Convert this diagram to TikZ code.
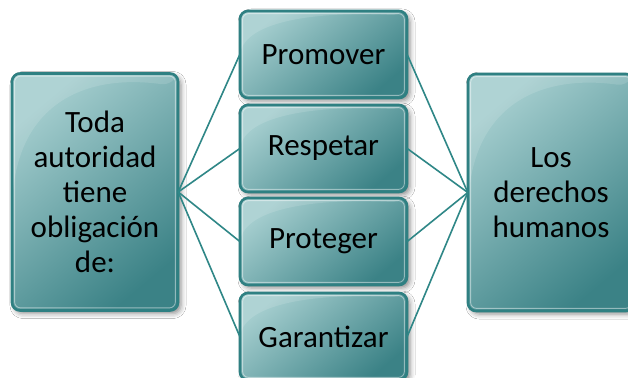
\documentclass[tikz,border=0pt]{standalone}
\usepackage{fontspec}
\setmainfont{Carlito}
\usetikzlibrary{shadows.blur,calc}
\definecolor{boxlight}{HTML}{A4CDCE}
\definecolor{boxdark}{HTML}{3B8286}
\definecolor{boxedge}{HTML}{2F8082}
\definecolor{linkcol}{HTML}{2F8787}
\tikzset{
  gbox/.style={rounded corners=8pt,
    top color=boxlight, bottom color=boxdark, shading angle=40,
    blur shadow={shadow xshift=3pt, shadow yshift=-3pt, shadow blur radius=5pt, shadow opacity=45},
    align=center, text=black, inner sep=0pt,
    font=\fontsize{31}{35}\selectfont,
    path picture={
      \coordinate (pnw) at (path picture bounding box.north west);
      \coordinate (pne) at (path picture bounding box.north east);
      \coordinate (psw) at (path picture bounding box.south west);
      \coordinate (pse) at (path picture bounding box.south east);
      \fill[white, fill opacity=0.13] (pnw) -- ($(pnw)!0.62!(psw)$)
        .. controls ($(pnw)!0.12!(psw)$) and ($(pnw)!0.45!(pne)$) .. ($(pne)!0.05!(psw)$)
        -- (pne) -- cycle;
      \draw[white, draw opacity=0.45, line width=0.9pt, rounded corners=6pt]
        ($(pnw)+(2.6pt,-2.6pt)$) rectangle ($(pse)+(-2.6pt,2.6pt)$);
    },
    postaction={draw=boxedge, line width=2.6pt}},
  bigbox/.style={gbox, minimum width=166pt, minimum height=237pt},
  smallbox/.style={gbox, minimum width=167pt, minimum height=87pt},
  link/.style={draw=linkcol, line width=1.6pt}
}
\begin{document}
\begin{tikzpicture}[x=1pt,y=-1pt]
\useasboundingbox (0,0) rectangle (628,377);
\clip (0,0) rectangle (628,377);
\fill[white] (0,0) rectangle (628,377);
\node[bigbox] (left) at (95,192) {Toda\\autoridad\\tiene\\obligación\\de:};
\node[smallbox] (m1) at (323.5,54.5) {Promover};
\node[smallbox] (m2) at (323.5,148.5) {Respetar};
\node[smallbox] (m3) at (323.5,241.5) {Proteger};
\node[smallbox] (m4) at (323.5,336.5) {Garantizar};
\node[bigbox] (right) at (551,192.5) {Los\\derechos\\humanos};
\foreach \m in {m1,m2,m3,m4}{
  \draw[link] (left.east) -- (\m.west);
  \draw[link] (\m.east) -- (right.west);
}
\end{tikzpicture}
\end{document}
